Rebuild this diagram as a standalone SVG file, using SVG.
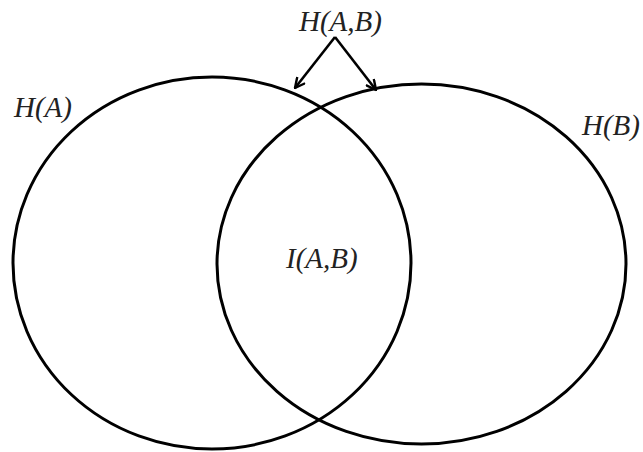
<svg xmlns="http://www.w3.org/2000/svg" width="643" height="452" viewBox="0 0 643 452">
<style>
.c{fill:none;stroke:#000;stroke-width:3}
.t{font-family:"Liberation Serif","Times New Roman",serif;font-style:italic;font-size:29px;fill:#222}
.a{fill:none;stroke:#000;stroke-width:2.6}
</style>
<defs>
<marker id="ah" viewBox="0 0 12 12" refX="11" refY="6" markerWidth="12" markerHeight="12" markerUnits="userSpaceOnUse" orient="auto">
<path d="M1,1 L11,6 L1,11" fill="none" stroke="#000" stroke-width="2.4"/>
</marker>
</defs>
<g id="circleA"><ellipse class="c" cx="212" cy="263" rx="199" ry="186"/></g>
<g id="circleB"><ellipse class="c" cx="421.5" cy="264" rx="204.5" ry="180"/></g>
<g id="labelHAB"><text class="t" x="299" y="31">H(A,B)</text></g>
<g id="labelHA"><text class="t" x="14" y="117">H(A)</text></g>
<g id="labelHB"><text class="t" x="582" y="135">H(B)</text></g>
<g id="labelIAB"><text class="t" x="286" y="268">I(A,B)</text></g>
<g id="connectors">
<line class="a" x1="335" y1="37" x2="295" y2="88" marker-end="url(#ah)"/>
<line class="a" x1="335" y1="37" x2="376" y2="90" marker-end="url(#ah)"/>
</g>
</svg>
